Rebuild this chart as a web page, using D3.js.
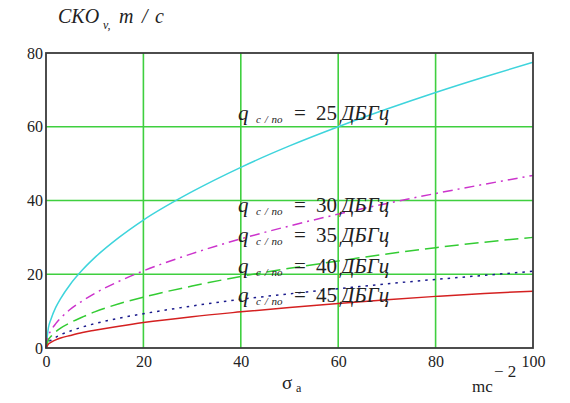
<!DOCTYPE html>
<html>
<head>
<meta charset="utf-8">
<script src="https://cdn.jsdelivr.net/npm/d3@7/dist/d3.min.js"></script>
<style>
  html, body { margin: 0; padding: 0; background: #fff; }
  svg { display: block; }
  text { font-family: "Liberation Serif", "Tinos", "Times New Roman", "DejaVu Serif", "Noto Serif", serif; fill: #222; }
</style>
</head>
<body>
<svg id="chart" width="570" height="403"></svg>
<script>
// Sample positions along the acceleration axis (σa, m·s⁻²)
const sigmaA = [0, 0.5, 1, 2, 3, 5, 7.5, 10, 15, 20, 30, 40, 50, 60, 70, 80, 90, 100];

// RMS velocity error (m/s) for each carrier-to-noise ratio
const sko25 = [0, 5.5, 7.75, 11.0, 13.4, 17.3, 21.2, 24.5, 30.0, 34.7, 42.4, 49.0, 54.8, 60.0, 64.8, 69.3, 73.5, 77.5];
const sko30 = [0, 3.3, 4.7, 6.6, 8.1, 10.5, 12.8, 14.8, 18.1, 20.9, 25.6, 29.6, 33.1, 36.3, 39.2, 41.9, 44.4, 46.8];
const sko35 = [0, 2.2, 3.1, 4.4, 5.4, 6.9, 8.4, 9.8, 12.0, 13.8, 16.8, 19.4, 21.6, 23.6, 25.5, 27.2, 28.7, 30.0];
const sko40 = [0, 1.5, 2.1, 2.9, 3.6, 4.6, 5.7, 6.6, 8.1, 9.3, 11.4, 13.2, 14.7, 16.1, 17.4, 18.6, 19.7, 20.8];
const sko45 = [0, 1.1, 1.5, 2.2, 2.7, 3.4, 4.2, 4.8, 5.9, 6.9, 8.5, 9.8, 11.0, 12.1, 13.1, 14.0, 14.8, 15.4];

const xTicks = [0, 20, 40, 60, 80, 100];
const yTicks = [0, 20, 40, 60, 80];
const ratioLabels = ["25", "30", "35", "40", "45"];

const SERIF = "'Liberation Serif', 'Tinos', 'Times New Roman', 'DejaVu Serif', serif";

const svg = d3.select("#chart");
const x = d3.scaleLinear().domain([0, 100]).range([46, 533]);
const y = d3.scaleLinear().domain([0, 80]).range([348, 53]);

// grid lines at interior ticks
const grid = svg.append("g").attr("stroke", "#3fcf3f").attr("stroke-width", 1.6);
grid.selectAll("line.gx").data(xTicks.slice(1, -1)).join("line")
  .attr("x1", d => x(d)).attr("x2", d => x(d))
  .attr("y1", y(0)).attr("y2", y(80));
grid.selectAll("line.gy").data(yTicks.slice(1, -1)).join("line")
  .attr("x1", x(0)).attr("x2", x(100))
  .attr("y1", d => y(d)).attr("y2", d => y(d));

// axes: labels only, the frame is drawn separately
const xAxis = svg.append("g").attr("transform", `translate(0,${y(0)})`)
  .call(d3.axisBottom(x).tickValues(xTicks).tickSize(0).tickPadding(7));
const yAxis = svg.append("g").attr("transform", `translate(${x(0)},0)`)
  .call(d3.axisLeft(y).tickValues(yTicks).tickSize(0).tickPadding(3));
[xAxis, yAxis].forEach(a => {
  a.attr("font-family", SERIF);
  a.select(".domain").remove();
  a.selectAll("text").style("font-family", SERIF)
    .attr("font-size", 16).attr("fill", "#333");
});
xAxis.selectAll("text").attr("dy", "0.75em");

// curves
const series = [
  { values: sko25, color: "#3ed4dc", dash: null },
  { values: sko30, color: "#cc33cc", dash: "10,5,2,5" },
  { values: sko35, color: "#33cc33", dash: "14,6" },
  { values: sko40, color: "#1a1a8c", dash: "2.5,5" },
  { values: sko45, color: "#d42020", dash: null }
];
const line = d3.line().curve(d3.curveMonotoneX)
  .x((d, i) => x(sigmaA[i])).y(d => y(d));
svg.append("g").selectAll("path").data(series).join("path")
  .attr("d", s => line(s.values))
  .attr("fill", "none")
  .attr("stroke", s => s.color)
  .attr("stroke-width", 1.5)
  .attr("stroke-dasharray", s => s.dash);

// frame
svg.append("rect")
  .attr("x", x(0)).attr("y", y(80))
  .attr("width", x(100) - x(0)).attr("height", y(0) - y(80))
  .attr("fill", "none").attr("stroke", "#3a3a3a").attr("stroke-width", 1.8);

// curve annotations: q c/no = N ДБГц
const labelBaselines = [120, 212, 242, 273, 302];
ratioLabels.forEach((r, i) => {
  const b = labelBaselines[i];
  const t = svg.append("text").attr("y", b).attr("font-size", 21).attr("fill", "#222")
    .style("font-family", SERIF);
  t.append("tspan").attr("x", 238).attr("font-style", "italic").text("q");
  t.append("tspan").attr("x", 256).attr("y", b + 3).attr("font-size", 11)
    .attr("font-style", "italic").attr("word-spacing", 1).text("c / no");
  t.append("tspan").attr("x", 294).attr("y", b).text("=");
  t.append("tspan").attr("x", 316).text(r);
  t.append("tspan").attr("x", 341).attr("font-style", "italic").text("ДБГц");
});

// vertical axis title
const title = svg.append("text").attr("y", 23).attr("font-size", 20)
  .attr("font-style", "italic").attr("fill", "#222").style("font-family", SERIF);
title.append("tspan").attr("x", 58).text("CKO");
title.append("tspan").attr("x", 103).attr("y", 29).attr("font-size", 12).text("v,");
title.append("tspan").attr("x", 119).attr("y", 23).text("m");
title.append("tspan").attr("x", 142).text("/");
title.append("tspan").attr("x", 155).text("c");

// horizontal axis title and unit
const xt = svg.append("text").attr("y", 389).attr("font-size", 19).attr("fill", "#222")
  .style("font-family", SERIF);
xt.append("tspan").attr("x", 282).text("σ");
xt.append("tspan").attr("x", 296).attr("y", 392).attr("font-size", 12).text("a");

const unit = svg.append("text").attr("y", 392).attr("font-size", 17).attr("fill", "#222")
  .style("font-family", SERIF);
unit.append("tspan").attr("x", 472).text("mc");
unit.append("tspan").attr("x", 494).attr("y", 377).text("− 2");
</script>
</body>
</html>
